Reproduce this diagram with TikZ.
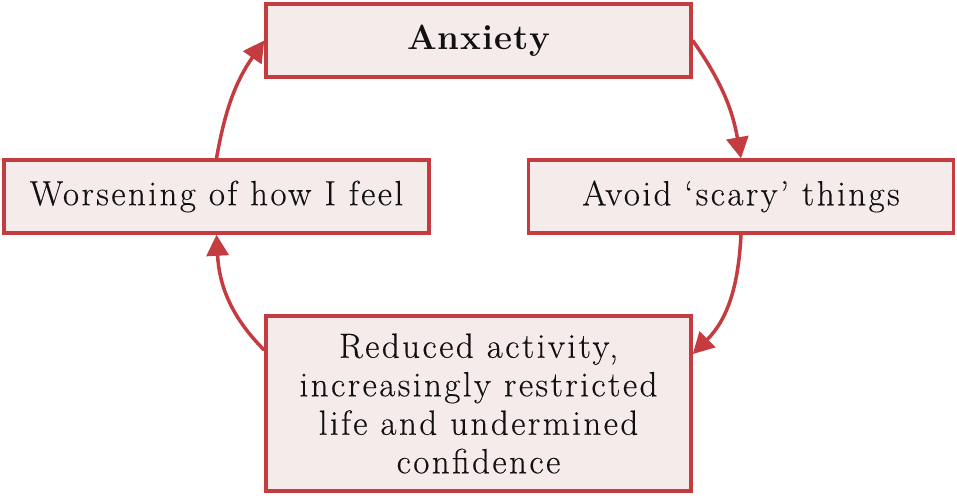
\documentclass[tikz,border=0pt]{standalone}
\usepackage{fontspec}
\setmainfont{Latin Modern Roman}[LetterSpace=7, FakeBold=0.3,
  BoldFeatures={LetterSpace=3, FakeBold=0}]
\usetikzlibrary{arrows.meta}
\definecolor{boxred}{RGB}{196,59,64}
\definecolor{boxfill}{RGB}{245,235,235}
\definecolor{txt}{RGB}{17,17,17}
\begin{document}
\begin{tikzpicture}[x=1pt,y=-1pt,
  cbox/.style={draw=boxred, fill=boxfill, line width=3.5pt, inner sep=0pt,
    minimum width=425pt, minimum height=73pt, text=txt, align=center,
    font=\fontsize{35}{38.5}\selectfont},
  cyc/.style={draw=boxred, line width=3.5pt, -{Triangle[length=21pt,width=22pt]}}]
\useasboundingbox (0,0) rectangle (957,495);
\node[cbox] (anx) at (478.5,40.5) {\bfseries Anxiety};
\node[cbox] (wors) at (216.5,196.5) {Worsening of how I feel};
\node[cbox] (avoid) at (741,196.5) {Avoid ‘scary’ things};
\node[cbox, minimum height=175pt] (red) at (478.5,403.5)
  {Reduced activity,\\increasingly restricted\\life and undermined\\confidence};
\draw[cyc] (anx.east) to[out=-55, in=100] (avoid.north);
\draw[cyc] (avoid.south) to[out=-93, in=45] (red.13.5);
\draw[cyc] (red.166.5) to[out=135, in=-87] (wors.south);
\draw[cyc] (wors.north) to[out=80, in=-125] (anx.west);
\end{tikzpicture}
\end{document}
